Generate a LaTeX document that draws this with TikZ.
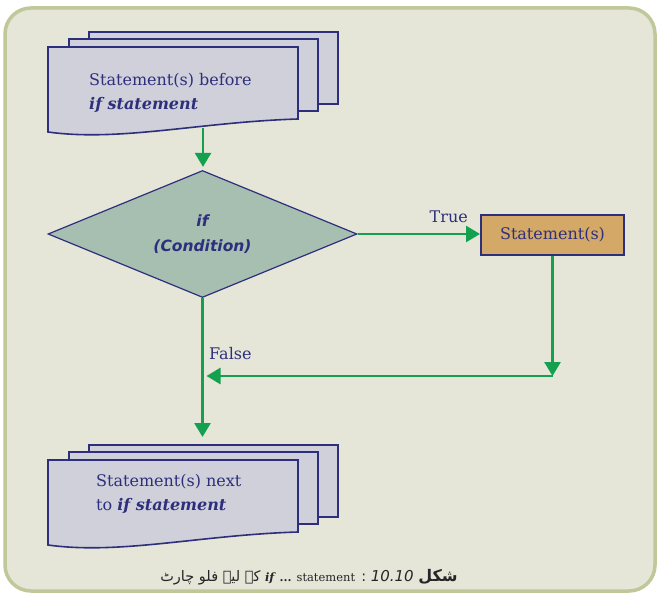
\documentclass[tikz,border=0pt]{standalone}
\usepackage{fontspec}
\setmainfont{DejaVu Serif}
\setsansfont{DejaVu Sans}
\newfontfamily\urdufont[Script=Arabic]{DejaVu Sans}
\TeXXeTstate=1
\usetikzlibrary{arrows.meta,positioning,shapes.geometric,calc}
\definecolor{FrameFill}{HTML}{E5E6D8}
\definecolor{FrameLine}{HTML}{C0C89A}
\definecolor{SheetFill}{HTML}{CFD0D9}
\definecolor{InkBlue}{HTML}{2E2F7C}
\definecolor{FlowGreen}{HTML}{13A04F}
\definecolor{CondFill}{HTML}{A6BFB1}
\definecolor{StmtFill}{HTML}{D4A867}
\tikzset{
  fc/frame/.style={draw=FrameLine, fill=FrameFill, line width=3.5pt, rounded corners=26pt},
  fc/sheet/.style={draw=InkBlue, fill=SheetFill, line width=1.6pt, minimum width=249pt, minimum height=72pt, inner sep=0pt, outer sep=0pt},
  fc/sheetline/.style={draw=InkBlue, fill=SheetFill, line width=1.6pt},
  fc/text/.style={text=InkBlue, inner sep=0pt, align=left, font=\fontsize{16}{24}\selectfont},
  fc/decision/.style={draw=InkBlue, fill=CondFill, diamond, line width=1.2pt, aspect=2.43, minimum width=309pt, minimum height=127pt, inner sep=0pt, align=center, text=InkBlue, font=\fontsize{15.5}{25}\selectfont\sffamily\bfseries\itshape},
  fc/process/.style={draw=InkBlue, fill=StmtFill, line width=2pt, minimum width=143pt, minimum height=40pt, inner sep=0pt, text=InkBlue, font=\fontsize{16}{18}\selectfont},
  fc/flow/.style={draw=FlowGreen, line width=2.6pt, -{Triangle[length=14pt,width=16pt]}},
  fc/caption/.style={inner sep=0pt, text=black!85, font=\fontsize{14.5}{17}\selectfont}
}

\begin{document}
\begin{tikzpicture}[x=1pt, y=-1pt]
  \useasboundingbox[fill=white] (0,0) rectangle (658,601);
  \draw[fc/frame] (5,8) rectangle (655,591);

  % statements before the if
  \node[fc/sheet, anchor=north west] (before-back) at (89,32) {};
  \node[fc/sheet, anchor=north west] (before-mid) at (69,39) {};
  \draw[fc/sheetline] (48,47) -- (298,47) -- (298,119) .. controls (200,122) and (120,142) .. (48,132) -- cycle;
  \coordinate (before-foot) at (203,128);
  \node[fc/text, anchor=north west] (before) at (89,73.5) {Statement(s) before\\\textbf{\textit{if statement}}};

  % decision and true branch
  \node[fc/decision] (cond) at (202.5,234) {if\\(Condition)};
  \node[fc/process] (stmt) at (552.5,235) {Statement(s)};
  \node[fc/text, above left=12pt and 12pt of stmt.west] (true) {True};
  \node[fc/text, anchor=base west] (false) at (209,359) {False};

  % statements after the if
  \node[fc/sheet, anchor=north west] (after-back) at (89,445) {};
  \node[fc/sheet, anchor=north west] (after-mid) at (69,452) {};
  \draw[fc/sheetline] (48,460) -- (298,460) -- (298,532) .. controls (200,535) and (120,555) .. (48,545) -- cycle;
  \node[fc/text, anchor=north west] (after) at (96,474.5) {Statement(s) next\\to \textbf{\textit{if statement}}};

  % connectors
  \coordinate (join) at (552.5,376);
  \draw[fc/flow, shorten >=3pt] (before-foot) -- (before-foot |- cond.north);
  \draw[fc/flow] (cond.east) -- (stmt.west |- cond.east);
  \draw[fc/flow] (stmt) -- (join);
  \draw[fc/flow, shorten >=4pt] (join) -- (join -| cond.south);
  \draw[fc/flow, shorten >=8pt] (cond) -- (cond.south |- after-back.north);

  \node[fc/caption] (caption) at (309,577) {\urdufont\beginR{\fontsize{16}{17}\selectfont\bfseries شکل} \beginL{\sffamily\itshape\fontsize{15}{17}\selectfont 10.10}\endL{} : \beginL{\rmfamily\fontsize{11.5}{17}\selectfont\textbf{\textit{if}} \textbf{...} statement}\endL{} کے لیے فلو چارٹ\endR};
\end{tikzpicture}
\end{document}
